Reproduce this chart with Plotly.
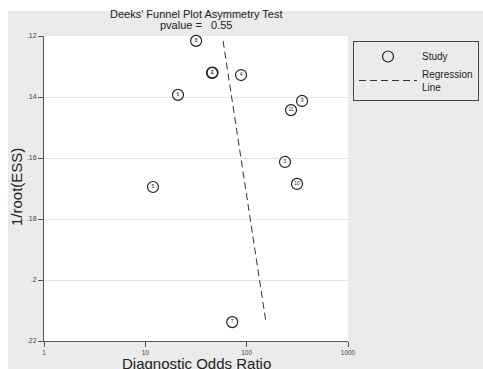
import plotly.graph_objects as go

study_ids = ["1", "2", "3", "4", "5", "6", "7", "8", "9", "10", "11"]
dor = [46.0, 45.5, 239, 88, 11.9, 21.0, 72, 31.7, 352, 314, 274]
inv_root_ess = [0.1320, 0.1321, 0.1613, 0.1328, 0.1695, 0.1393, 0.2138, 0.1216, 0.1413, 0.1685, 0.1443]

reg_x = [58.5, 155]
reg_y = [0.1216, 0.2138]

x_tickvals = [1, 10, 100, 1000]
x_ticktext = ["1", "10", "100", "1000"]
y_tickvals = [0.12, 0.14, 0.16, 0.18, 0.20, 0.22]
y_ticktext = [".12", ".14", ".16", ".18", ".2", ".22"]

W, H = 483, 369
L, R, T, B = 44, 135, 36, 28
pw, ph = W - L - R, H - T - B

def px_x(x):
    return (x - L) / pw

def px_y(y):
    return (H - B - y) / ph

FONT = "Liberation Sans, Arial, sans-serif"
BG = "#ebebeb"

fig = go.Figure()
fig.add_trace(go.Scatter(
    x=dor, y=inv_root_ess, mode="markers+text", text=study_ids,
    textposition="middle center", textfont=dict(size=5, color="#222"),
    marker=dict(symbol="circle-open", size=11, color="#222", line=dict(width=1.2, color="#222")),
    name="Study", cliponaxis=False,
))
fig.add_trace(go.Scatter(
    x=reg_x, y=reg_y, mode="lines",
    line=dict(color="#333", width=1, dash="7px,4px"),
    name="Regression<br>Line",
))

shapes = [
    dict(type="rect", xref="paper", yref="paper", x0=px_x(0), x1=px_x(W), y0=px_y(0), y1=px_y(11),
         fillcolor="white", line=dict(width=0), layer="above"),
    dict(type="rect", xref="paper", yref="paper", x0=px_x(0), x1=px_x(8), y0=px_y(H), y1=px_y(0),
         fillcolor="white", line=dict(width=0), layer="above"),
]

annotations = [
    dict(text="Deeks' Funnel Plot Asymmetry Test", xref="paper", yref="paper", x=0.5, y=px_y(14),
         showarrow=False, font=dict(size=11, color="#222", family=FONT), xanchor="center", yanchor="middle"),
    dict(text="pvalue =   0.55", xref="paper", yref="paper", x=0.5, y=px_y(25.5),
         showarrow=False, font=dict(size=11, color="#222", family=FONT), xanchor="center", yanchor="middle"),
    dict(text="1/root(ESS)", xref="paper", yref="paper", x=px_x(17), y=px_y(187), textangle=-90,
         showarrow=False, font=dict(size=15, color="#222", family=FONT), xanchor="center", yanchor="middle"),
    dict(text="Diagnostic Odds Ratio", xref="paper", yref="paper", x=0.5, y=px_y(363),
         showarrow=False, font=dict(size=15, color="#222", family=FONT), xanchor="center", yanchor="middle"),
]

fig.update_layout(
    width=W, height=H,
    margin=dict(l=L, r=R, t=T, b=B, autoexpand=False),
    paper_bgcolor=BG, plot_bgcolor="white",
    font=dict(family=FONT, color="#222"),
    shapes=shapes, annotations=annotations,
    legend=dict(x=px_x(353), y=px_y(41), xanchor="left", yanchor="top",
                bgcolor=BG, bordercolor="#444", borderwidth=1,
                font=dict(size=10, color="#222", family=FONT),
                itemwidth=58, tracegroupgap=4),
    xaxis=dict(type="log", range=[0, 3], tickvals=x_tickvals, ticktext=x_ticktext,
               showgrid=False, zeroline=False, showline=True, linecolor="#555", linewidth=1,
               ticks="outside", ticklen=5, tickcolor="#555",
               tickfont=dict(size=6.5, color="#444")),
    yaxis=dict(range=[0.22, 0.12], tickvals=y_tickvals, ticktext=y_ticktext,
               showgrid=True, gridcolor="#e4e4e4", gridwidth=1, zeroline=False,
               showline=True, linecolor="#555", linewidth=1,
               ticks="outside", ticklen=5, tickcolor="#555",
               tickfont=dict(size=7, color="#444")),
)

fig.write_html("out.html", config={"displayModeBar": False},
               post_script="document.body.style.margin='0';")
